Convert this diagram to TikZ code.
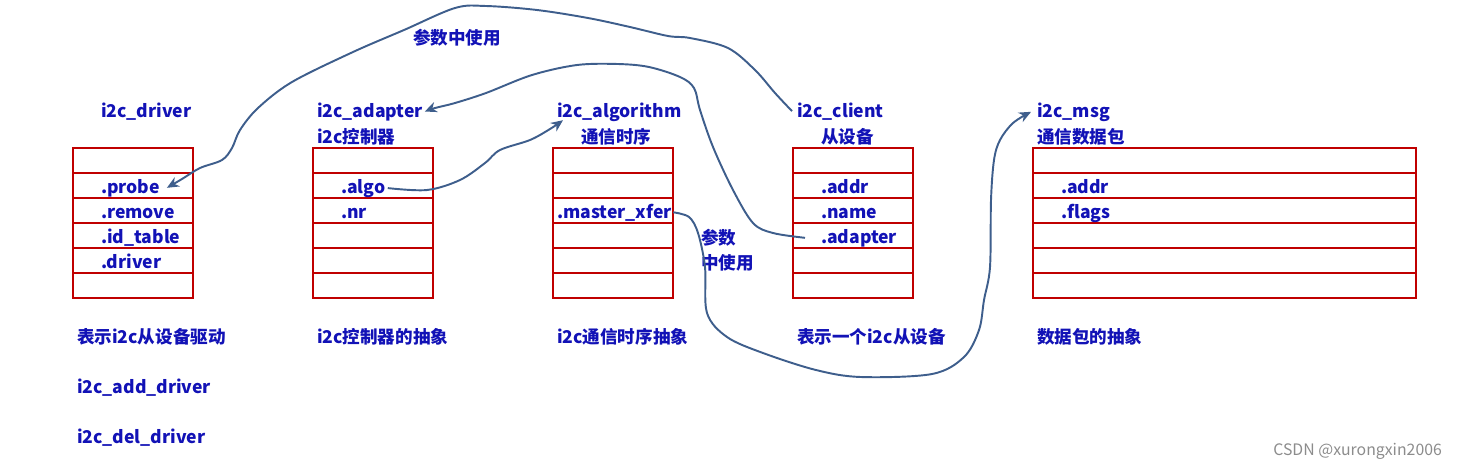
\documentclass[tikz,border=0pt]{standalone}
\usepackage{fontspec}
\setmainfont{Noto Sans CJK SC}
\usetikzlibrary{arrows.meta}
\definecolor{boxred}{RGB}{192,0,0}
\definecolor{txtblue}{RGB}{18,18,182}
\definecolor{linkblue}{RGB}{62,94,140}

\begin{document}
\begin{tikzpicture}[x=0.02cm, y=-0.02cm, >={Stealth[length=2.4mm,width=2.1mm]},
    box/.style={draw=boxred, line width=1.1pt},
    lbl/.style={anchor=base west, inner sep=0pt, outer sep=0pt, text=txtblue,
                font=\fontsize{10}{12}\selectfont\bfseries},
    link/.style={draw=linkblue, line width=1.1pt, ->},
    wmark/.style={font=\fontsize{9}{11}\selectfont, text=black!45, anchor=base west, inner sep=0pt}]

\useasboundingbox (0,0) rectangle (1479,468);

% === Struct boxes (6 rows each) ===
\foreach \xa/\xb in {73/193, 313/433, 553/673, 793/913, 1033/1416} {
  \draw[box] (\xa,148) rectangle (\xb,298);
  \foreach \yy in {173,198,...,273} \draw[box] (\xa,\yy) -- (\xb,\yy);
}

% === Titles ===
\node[lbl] (drvT) at (101,117) {i2c\_driver};
\node[lbl] (adpT) at (317,117) {i2c\_adapter};
\node[lbl] (adpC) at (317,143) {i2c控制器};
\node[lbl] (algT) at (557,117) {i2c\_algorithm};
\node[lbl] (algC) at (581,143) {通信时序};
\node[lbl] (cliT) at (797,117) {i2c\_client};
\node[lbl] (cliC) at (821,143) {从设备};
\node[lbl] (msgT) at (1037,117) {i2c\_msg};
\node[lbl] (msgC) at (1037,143) {通信数据包};

% === Fields ===
\node[lbl] (probe)  at (101,193) {.probe};
\node[lbl] (remove) at (101,218) {.remove};
\node[lbl] (idtbl)  at (101,243) {.id\_table};
\node[lbl] (drvfld) at (101,268) {.driver};
\node[lbl] (algo)   at (341,193) {.algo};
\node[lbl] (nr)     at (341,218) {.nr};
\node[lbl] (xfer)   at (557,218) {.master\_xfer};
\node[lbl] (caddr)  at (821,193) {.addr};
\node[lbl] (cname)  at (821,218) {.name};
\node[lbl] (cadp)   at (821,243) {.adapter};
\node[lbl] (maddr)  at (1061,193) {.addr};
\node[lbl] (mflags) at (1061,218) {.flags};

% === Descriptions ===
\node[lbl] (drvD) at (77,343)  {表示i2c从设备驱动};
\node[lbl] (drvA) at (77,393)  {i2c\_add\_driver};
\node[lbl] (drvR) at (77,443)  {i2c\_del\_driver};
\node[lbl] (adpD) at (317,343) {i2c控制器的抽象};
\node[lbl] (algD) at (557,343) {i2c通信时序抽象};
\node[lbl] (cliD) at (797,343) {表示一个i2c从设备};
\node[lbl] (msgD) at (1037,343) {数据包的抽象};

% === Link notes ===
\node[lbl] (useA)  at (413,44)  {参数中使用};
\node[lbl] (useB1) at (701,244) {参数};
\node[lbl] (useB2) at (701,269) {中使用};

% === Links ===
\draw[link] plot[smooth, tension=0.55] coordinates {([xshift=-0.1cm]cliT.west) (775,93) (755,70)
    (728,48) (690,38) (668,36) (630,27) (588,18) (537,10) (486,6) (455,8) (404,30)
    (353,52) (292,82) (258,108) (240,130) (232,148) (222,160) (200,168) (182,179)
    ([xshift=0.14cm]probe.east)};
\draw[link] plot[smooth, tension=0.55] coordinates {([xshift=-0.32cm]cadp.west) (773,233)
    (753,223) (733,190) (713,147) (700,110) (694,88) (680,77) (649,67) (618,64) (577,65)
    (532,75) (486,93) (455,103) (435,108) ([xshift=0.04cm]adpT.east)};
\draw[link] plot[smooth, tension=0.55] coordinates {([xshift=0.05cm]algo.east) (427,190) (460,180)
    (485,163) (500,150) (530,140) (550,129) ([xshift=0.12cm,yshift=0.02cm]algT.south west)};
\draw[link] plot[smooth, tension=0.55] coordinates {([xshift=0.03cm]xfer.east) (689,217) (698,233)
    (705,267) (707,313) (727,337) (763,353) (816,370) (861,377) (932,374) (964,357)
    (979,330) (984,300) (990,267) (991,200) (994,160) (1000,140) (1013,123)
    ([xshift=-0.12cm]msgT.west)};

% === Watermark ===
\node[wmark] (wm) at (1273,455) {CSDN @xurongxin2006};

\end{tikzpicture}
\end{document}
